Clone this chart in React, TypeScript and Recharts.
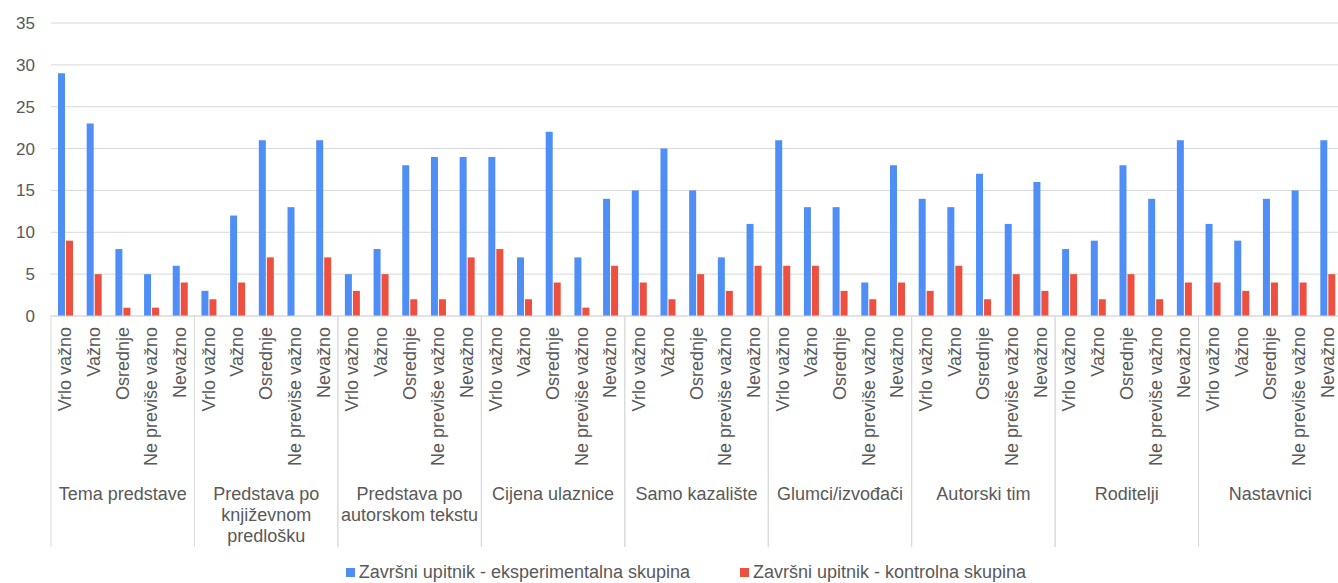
import { Bar, BarChart, CartesianGrid, Legend, XAxis, YAxis } from "recharts";

const groups = [
  "Tema predstave",
  "Predstava po|književnom|predlošku",
  "Predstava po|autorskom tekstu",
  "Cijena ulaznice",
  "Samo kazalište",
  "Glumci/izvođači",
  "Autorski tim",
  "Roditelji",
  "Nastavnici",
];

const levels = ["Vrlo važno", "Važno", "Osrednje", "Ne previše važno", "Nevažno"];

const experimental = [
  [29, 23, 8, 5, 6],
  [3, 12, 21, 13, 21],
  [5, 8, 18, 19, 19],
  [19, 7, 22, 7, 14],
  [15, 20, 15, 7, 11],
  [21, 13, 13, 4, 18],
  [14, 13, 17, 11, 16],
  [8, 9, 18, 14, 21],
  [11, 9, 14, 15, 21],
];

const control = [
  [9, 5, 1, 1, 4],
  [2, 4, 7, 0, 7],
  [3, 5, 2, 2, 7],
  [8, 2, 4, 1, 6],
  [4, 2, 5, 3, 6],
  [6, 6, 3, 2, 4],
  [3, 6, 2, 5, 3],
  [5, 2, 5, 2, 4],
  [4, 3, 4, 4, 5],
];

const yTicks = [0, 5, 10, 15, 20, 25, 30, 35];

const seriesNames = [
  "Završni upitnik - eksperimentalna skupina",
  "Završni upitnik - kontrolna skupina",
];

const BLUE = "#4e8ef5";
const RED = "#ee5040";
const TEXT = "#595959";
const GRID = "#d9d9d9";
const FONT = "'Liberation Sans', Arial, sans-serif";

const data = groups.flatMap((group, g) =>
  levels.map((level, l) => ({
    id: g * 5 + l,
    group,
    level,
    exp: experimental[g][l],
    ctrl: control[g][l],
  }))
);

function CategoryTick(props: any) {
  const { x, y, payload } = props;
  const idx: number = payload.index ?? payload.value;
  const row = data[idx];
  const half: number = payload.offset || 14.35;
  const pos = idx % 5;
  return (
    <g>
      <text
        x={x}
        y={y + 11}
        transform={`rotate(-90, ${x}, ${y + 11})`}
        textAnchor="end"
        dominantBaseline="central"
        fill={TEXT}
        fontSize={18}
        fontFamily={FONT}
      >
        {row.level}
      </text>
      {pos === 0 && <line x1={x - half} x2={x - half} y1={y} y2={y + 231} stroke={GRID} />}
      {pos === 4 && <line x1={x + half} x2={x + half} y1={y} y2={y + 231} stroke={GRID} />}
      {pos === 2 &&
        row.group.split("|").map((line, i) => (
          <text
            key={i}
            x={x}
            y={y + 178 + i * 21}
            textAnchor="middle"
            dominantBaseline="central"
            fill={TEXT}
            fontSize={18}
            fontFamily={FONT}
          >
            {line}
          </text>
        ))}
    </g>
  );
}

function LegendContent() {
  const colors = [BLUE, RED];
  return (
    <div
      style={{
        display: "flex",
        justifyContent: "center",
        gap: 50,
        paddingTop: 4,
        marginLeft: 34,
        fontFamily: FONT,
        fontSize: 18,
        lineHeight: "18px",
        color: TEXT,
      }}
    >
      {seriesNames.map((name, i) => (
        <div key={name} style={{ display: "flex", alignItems: "center", gap: 4 }}>
          <span style={{ display: "inline-block", width: 9, height: 9, background: colors[i] }} />
          <span>{name}</span>
        </div>
      ))}
    </div>
  );
}

export default function App() {
  return (
    <div style={{ position: "fixed", left: 0, top: 0, width: 1338, height: 583, overflow: "hidden", background: "#fff" }}>
      <BarChart
        width={1350}
        height={583}
        data={data}
        margin={{ top: 23, right: 8, left: 0, bottom: 0 }}
        barGap={1}
      >
        <CartesianGrid stroke={GRID} vertical={false} />
        <XAxis
          dataKey="id"
          type="category"
          interval={0}
          height={243}
          tickSize={0}
          tickMargin={0}
          axisLine={{ stroke: GRID }}
          tickLine={false}
          tick={<CategoryTick />}
        />
        <YAxis
          domain={[0, 35]}
          ticks={yTicks}
          width={51}
          axisLine={false}
          tickLine={false}
          tickSize={0}
          tickMargin={16}
          tick={{ fill: TEXT, fontSize: 17, fontFamily: FONT }}
        />
        <Legend
          verticalAlign="bottom"
          height={24}
          content={<LegendContent />}
          wrapperStyle={{ width: 1338, left: 0 }}
        />
        <Bar dataKey="exp" name={seriesNames[0]} fill={BLUE} barSize={7} isAnimationActive={false} />
        <Bar dataKey="ctrl" name={seriesNames[1]} fill={RED} barSize={7} isAnimationActive={false} />
      </BarChart>
    </div>
  );
}
